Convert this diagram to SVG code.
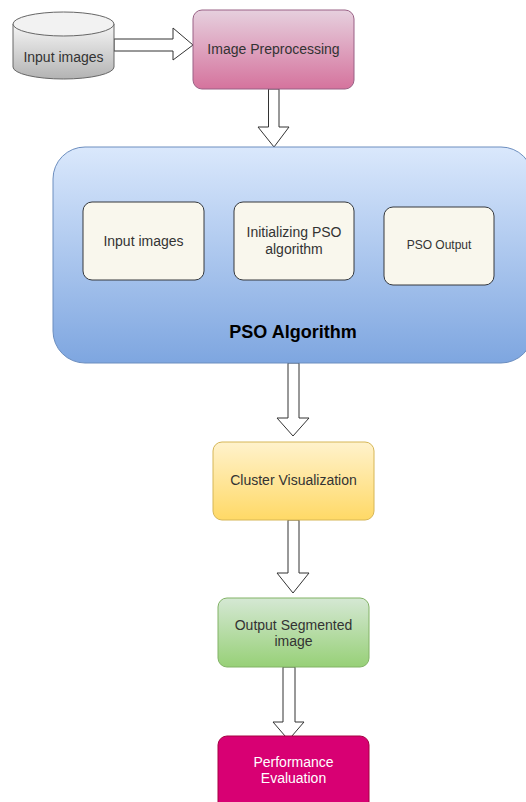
<svg xmlns="http://www.w3.org/2000/svg" width="526" height="802" viewBox="0 0 526 802">
<defs>
<linearGradient id="gGray" x1="0" y1="0" x2="0" y2="1"><stop offset="0" stop-color="#f5f5f5"/><stop offset="1" stop-color="#b3b3b3"/></linearGradient>
<linearGradient id="gPink" x1="0" y1="0" x2="0" y2="1"><stop offset="0" stop-color="#e6d0de"/><stop offset="1" stop-color="#d5739d"/></linearGradient>
<linearGradient id="gBlue" x1="0" y1="0" x2="0" y2="1"><stop offset="0" stop-color="#dae8fc"/><stop offset="1" stop-color="#7ea6e0"/></linearGradient>
<linearGradient id="gYellow" x1="0" y1="0" x2="0" y2="1"><stop offset="0" stop-color="#fff2cc"/><stop offset="1" stop-color="#ffd966"/></linearGradient>
<linearGradient id="gGreen" x1="0" y1="0" x2="0" y2="1"><stop offset="0" stop-color="#d5e8d4"/><stop offset="1" stop-color="#97d077"/></linearGradient>
<marker id="ah" viewBox="0 0 10 10" refX="9" refY="5" markerWidth="8" markerHeight="8" markerUnits="userSpaceOnUse" orient="auto"><path d="M0,0 L10,5 L0,10 L3,5 Z" fill="#000"/></marker>
</defs>
<style>
text{font-family:"Liberation Sans",Arial,sans-serif;font-size:14px;fill:#333;text-anchor:middle;dominant-baseline:central}
.fat{fill:#fff;stroke:#333;stroke-width:1}
.inner{fill:#f9f7ed;stroke:#36393d;stroke-width:1}
.thin{fill:none;stroke:#000;stroke-width:1;marker-end:url(#ah)}
</style>
<g id="connectors">
<polygon class="fat" points="114,39 173,39 173,28 193,45 173,60 173,51 114,51"/>
<polygon class="fat" points="268.5,89 279,89 279,127 289,127 274,147 258,127 268.5,127"/>
<polygon class="fat" points="288,363 299,363 299,418 309,418 293,436 277,418 288,418"/>
<polygon class="fat" points="288,520 299,520 299,573 309,573 293,593 277,573 288,573"/>
<polygon class="fat" points="283,667 295,667 295,722 304,722 288.5,740 273,722 283,722"/>
<path class="thin" d="M204,240 L233,240"/>
<path class="thin" d="M354,245 L383,245"/>
</g>
<g id="input-images-db">
<path d="M13,24 L13,67 A50.5,12 0 0 0 114,67 L114,24" fill="url(#gGray)" stroke="#666"/>
<ellipse cx="63.5" cy="24" rx="50.5" ry="12" fill="#f2f2f2" stroke="#666"/>
<text x="63.5" y="57">Input images</text>
</g>
<g id="image-preprocessing">
<rect x="193" y="10" width="161" height="79" rx="9" fill="url(#gPink)" stroke="#996185"/>
<text x="273.5" y="49">Image Preprocessing</text>
</g>
<g id="pso-algorithm">
<rect x="53" y="147" width="480" height="216" rx="32" fill="url(#gBlue)" stroke="#6c8ebf"/>
<text x="293" y="332" style="font-size:18px;font-weight:bold;fill:#000">PSO Algorithm</text>
</g>
<g id="pso-input-images">
<rect class="inner" x="83" y="202" width="121" height="78" rx="9"/>
<text x="143.5" y="241">Input images</text>
</g>
<g id="initializing-pso">
<rect class="inner" x="234" y="202" width="120" height="78" rx="9"/>
<text x="294" y="232">Initializing PSO</text>
<text x="294" y="249">algorithm</text>
</g>
<g id="pso-output">
<rect class="inner" x="384" y="207" width="110" height="78" rx="9"/>
<text x="439" y="245" style="font-size:12px">PSO Output</text>
</g>
<g id="cluster-visualization">
<rect x="213" y="442" width="161" height="78" rx="9" fill="url(#gYellow)" stroke="#d6b656"/>
<text x="293.5" y="480">Cluster Visualization</text>
</g>
<g id="output-segmented">
<rect x="218" y="598" width="151" height="69" rx="9" fill="url(#gGreen)" stroke="#82b366"/>
<text x="293.5" y="625">Output Segmented</text>
<text x="293.5" y="641">image</text>
</g>
<g id="performance-evaluation">
<rect x="218" y="736" width="151" height="78" rx="9" fill="#d80073" stroke="#a50040"/>
<text x="293.5" y="762" style="fill:#fff">Performance</text>
<text x="293.5" y="778" style="fill:#fff">Evaluation</text>
</g>
</svg>
